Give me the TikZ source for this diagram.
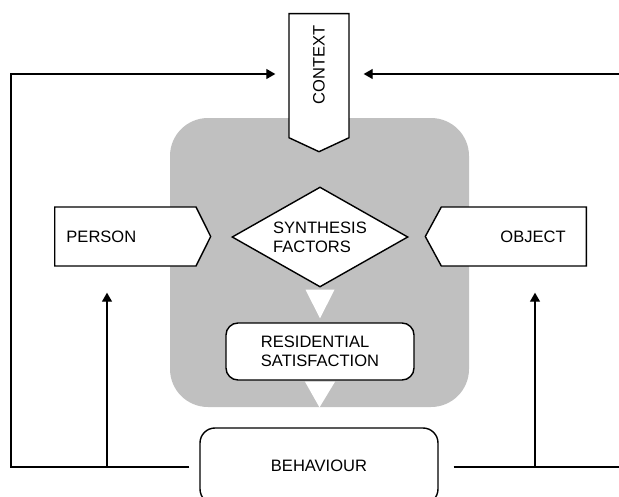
\documentclass[tikz,border=0pt]{standalone}
\usepackage{fontspec}
\setmainfont{Liberation Sans}
\usetikzlibrary{shapes.geometric, shapes.symbols, arrows.meta}
\definecolor{panel}{RGB}{192,192,192}
\tikzset{
  txt/.style={font=\fontsize{9.4}{10.8}\selectfont},
  box/.style={txt, draw, line width=0.8pt, fill=white, inner sep=0pt},
  sig/.style={box, shape=signal, signal pointer angle=#1},
  conn/.style={line width=0.7pt},
  arr/.style={conn, -{Triangle[length=0.18cm, width=0.2cm]}},
}
\begin{document}
\begin{tikzpicture}
\useasboundingbox (0,0) rectangle (12.38,9.92);
% 灰色底板
\node (bg) at (6.39,4.67) [fill=panel, rounded corners=0.76cm, minimum width=5.98cm, minimum height=5.78cm] {};
% 情境
\node (ctx) at (6.38,9.66) [sig=130, signal to=west, rotate=90, anchor=east, minimum width=2.76cm, minimum height=1.2cm] {\hspace{0.44cm}CONTEXT};
% 人与物
\node (person) at (1.08,5.19) [sig=127, signal to=east, anchor=west, minimum width=3.12cm, minimum height=1.18cm] {PERSON\kern0.96cm};
\node (object) at (11.74,5.19) [sig=123, signal to=west, anchor=east, minimum width=3.22cm, minimum height=1.18cm] {\hspace{0.77cm}OBJECT};
% 综合因素
\node (syn) at (6.40,5.18) [box, diamond, aspect=1.76, minimum width=3.52cm, minimum height=2cm, align=left] {SYNTHESIS\\FACTORS};
% 居住满意度
\node (res) at (6.40,2.89) [box, rounded corners=0.24cm, minimum width=3.76cm, minimum height=1.14cm, align=left] {RESIDENTIAL\\SATISFACTION};
% 行为
\node (beh) at (6.38,0.60) [box, rounded corners=0.3cm, minimum width=4.76cm, minimum height=1.52cm] {BEHAVIOUR};
% 白色三角
\fill[white] ([xshift=-0.29cm, yshift=-0.04cm]syn.south) -- ++(0.58,0) -- ([yshift=0.08cm]res.north) -- cycle;
\fill[white] ([xshift=-0.3cm, yshift=-0.02cm]res.south) -- ([xshift=0.3cm, yshift=-0.02cm]res.south) -- (bg.south) -- cycle;
% 反馈线
\coordinate (tl) at (0.22,8.44);
\coordinate (bl) at (0.22,0.58);
\coordinate (tr) at (12.38,8.44);
\coordinate (br) at (12.38,0.58);
\coordinate (pl) at (2.14,0.58);
\coordinate (or) at (10.70,0.58);
\draw[arr, shorten <=0.2cm, shorten >=0.26cm] (beh.west |- bl) -- (bl) -- (tl) -- (tl -| ctx.north);
\draw[arr, shorten >=0.28cm] (tr) -- (tr -| ctx.south);
\draw[conn, shorten <=0.3cm] (beh.east |- br) -- (br);
\draw[arr, shorten >=0.52cm] (pl) -- (pl |- person.south);
\draw[arr, shorten >=0.52cm] (or) -- (or |- object.south);
\end{tikzpicture}
\end{document}
